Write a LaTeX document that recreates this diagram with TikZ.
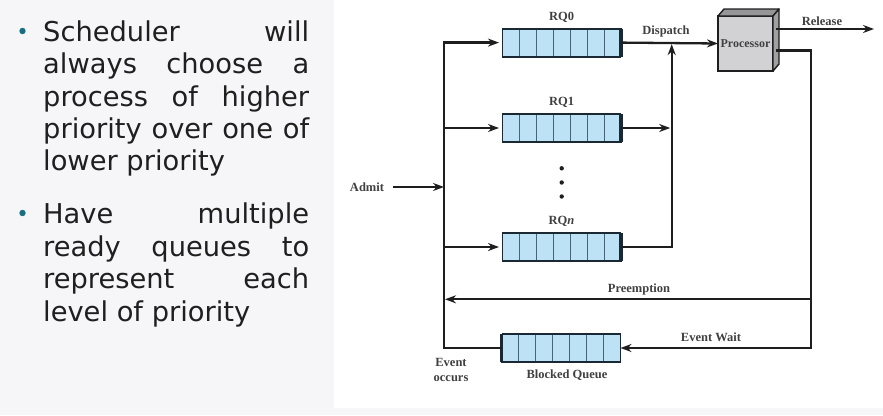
\documentclass[tikz,border=0pt]{standalone}
\usepackage{fontspec}
\setmainfont{DejaVu Sans}
\newfontfamily\labfont{Liberation Serif}
\usetikzlibrary{arrows.meta,calc}
\definecolor{pagebg}{RGB}{246,246,248}
\definecolor{ink}{RGB}{30,30,30}
\definecolor{qfill}{RGB}{190,226,245}
\definecolor{qdiv}{RGB}{70,100,120}
\definecolor{qedge}{RGB}{25,40,50}
\definecolor{bullet}{RGB}{26,110,128}
\definecolor{procfront}{RGB}{210,210,212}
\definecolor{procside}{RGB}{150,150,152}
\tikzset{
  line/.style={draw=ink, line width=2.3pt, line join=miter},
  arr/.style={line, -{Stealth[length=11pt,width=8pt]}},
  queue/.style={draw=qedge, line width=0.8pt, fill=qfill, minimum width=119pt, minimum height=28pt, inner sep=0pt, outer sep=0pt},
  qlabel/.style={font=\labfont\bfseries\fontsize{12.5}{14}\selectfont, text=ink!85, inner sep=0pt},
  btext/.style={anchor=base west, inner sep=0pt, font=\fontsize{27.3}{32.5}\selectfont, text=black!88}
}
\begin{document}
\begin{tikzpicture}[x=1pt,y=-1pt]
\useasboundingbox (0,0) rectangle (883,415);
\fill[pagebg] (0,0) rectangle (883,415);
\fill[white] (334,0) rectangle (883,408);

% bullet text
\fill[bullet] (22.5,31) circle (3.2pt);
\fill[bullet] (22.5,213) circle (3.2pt);
\node[btext] (l1) at (43,41.7) {\hbox to 266pt{Scheduler\hfill will}};
\node[btext] (l2) at (43,73.8) {\hbox to 266pt{always\hfill choose\hfill a}};
\node[btext] (l3) at (43,106) {\hbox to 266pt{process\hfill of\hfill higher}};
\node[btext] (l4) at (43,138) {\hbox to 266pt{priority\hfill over\hfill one\hfill of}};
\node[btext] (l5) at (43,170.5) {lower priority};
\node[btext] (l6) at (43,223.5) {\hbox to 266pt{Have\hfill multiple}};
\node[btext] (l7) at (43,256) {\hbox to 266pt{ready\hfill queues\hfill to}};
\node[btext] (l8) at (43,288.5) {\hbox to 266pt{represent\hfill each}};
\node[btext] (l9) at (43,321) {level of priority};

% queues
\node[queue] (q0) at (561.5,42.6) {};
\node[queue] (q1) at (561.5,128) {};
\node[queue] (qn) at (561.5,247) {};
\node[queue] (qb) at (561,348) {};
\foreach \q in {q0,q1,qn,qb}{
  \foreach \i in {1,...,6}{
    \draw[qdiv, line width=0.9pt] ($(\q.north west)!\i/7!(\q.north east)$) -- ($(\q.south west)!\i/7!(\q.south east)$);
  }
  \draw[qedge, line width=2.2pt] (\q.north west) -- (\q.north east);
  \draw[qedge, line width=2.2pt] (\q.south west) -- (\q.south east);
}
\foreach \q in {q0,q1,qn}{
  \draw[qedge, line width=3.2pt] (\q.north east) -- (\q.south east);
}
\draw[qedge, line width=2.6pt] (qb.north west) -- (qb.south west);

% queue labels
\node[qlabel] (t0) at (561.5,17.5) {RQ0};
\node[qlabel] (t1) at (561.5,102.5) {RQ1};
\node[qlabel] (tn) at (561.5,221) {RQ\textit{n}};
\node[qlabel] (tb) at (567,375) {Blocked Queue};

% dots
\foreach \yy in {168.3,182.5,196.5}{\fill[ink] (561.7,\yy) circle (2.2pt);}

% processor
\node[draw=ink, line width=1.6pt, fill=procfront, minimum width=55pt, minimum height=55pt, inner sep=0pt, outer sep=0pt] (proc) at (745.5,43.5) {};
\draw[ink, line width=1.4pt, fill=procside, line join=round] (proc.north west) -- ++(6,-7) -- ++(55,0) -- (proc.north east) -- cycle;
\draw[ink, line width=1.4pt, fill=procside!90, line join=round] (proc.north east) -- ++(6,-7) -- ++(0,55) -- (proc.south east) -- cycle;
\node[qlabel, font=\labfont\bfseries\fontsize{12}{13}\selectfont] (ptext) at (proc.center) {Processor};

% bus and admit
\coordinate (bustop) at (444,42.6);
\coordinate (busbot) at (444,348);
\coordinate (admitstart) at (393,187);
\node[qlabel] (admit) at (367,187) {Admit};
\draw[arr, shorten >=3pt] (qb.west) -- (busbot) -- (bustop) -- (q0.west);
\draw[arr] (admitstart) -- (admitstart -| bustop);
\draw[arr, shorten >=3pt] (bustop |- q1.west) -- (q1.west);
\draw[arr, shorten >=3pt] (bustop |- qn.west) -- (qn.west);

% dispatch
\coordinate (rv) at (671.7,247);
\draw[arr] (q0.east) -- (proc.west);
\node[qlabel] (disp) at (666,31.7) {Dispatch};
\draw[arr, shorten >=1.5pt] (q1.east) -- (rv |- q1.east);
\draw[arr, shorten >=1.5pt] (qn.east) -- (rv) -- (rv |- q0.east);

% release
\coordinate (relA) at (776,29);
\coordinate (relB) at (874,29);
\draw[arr] (relA) -- (relB);
\node[qlabel] (rel) at (822,21) {Release};

% return paths
\coordinate (retA) at (776,50.5);
\coordinate (retC) at (811,50.5);
\coordinate (pre) at (811,299.3);
\draw[arr] (retA) -- (retC) -- (retC |- qb.east) -- (qb.east);
\draw[arr, shorten >=1pt] (pre) -- (bustop |- pre);
\node[qlabel] (pretext) at (639,289.3) {Preemption};
\node[qlabel] (ewait) at (711,337.7) {Event Wait};

\node[qlabel, align=center, font=\labfont\bfseries\fontsize{12.5}{15}\selectfont] (evocc) at (451,369.5) {Event\\occurs};
\end{tikzpicture}
\end{document}
